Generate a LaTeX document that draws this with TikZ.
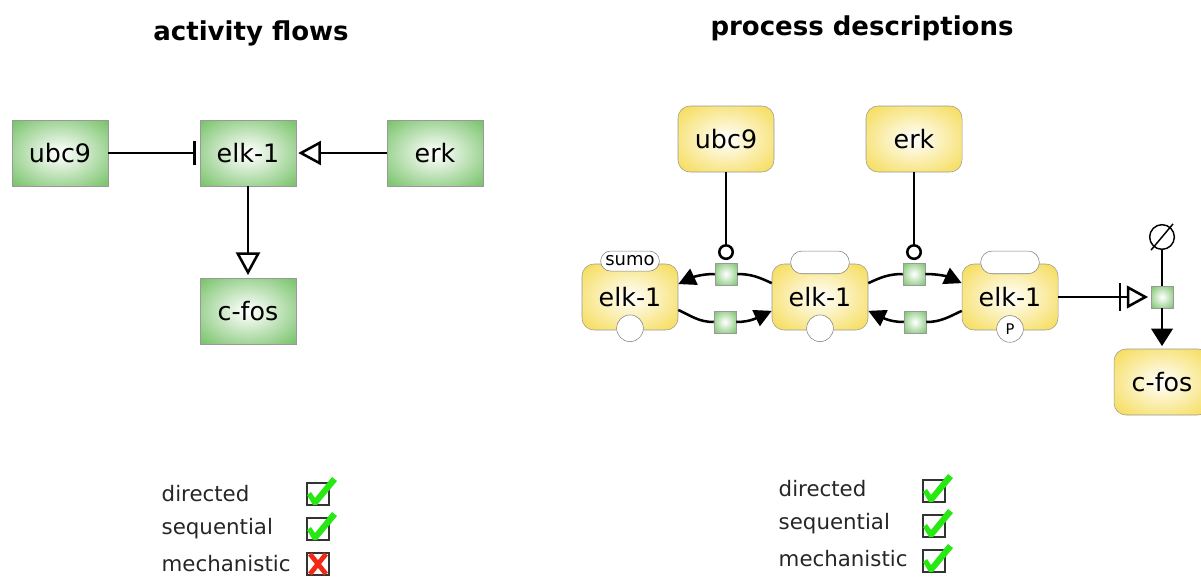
\documentclass[tikz,border=0pt]{standalone}
\usepackage{fontspec}
\setmainfont{DejaVu Sans}
\usetikzlibrary{arrows.meta,positioning,shapes.misc}

\definecolor{afgreen}{RGB}{124,196,110}
\definecolor{pdyellow}{RGB}{246,222,98}
\definecolor{tickgreen}{RGB}{40,232,20}
\definecolor{crossred}{RGB}{242,40,20}

\pgfdeclareradialshading{greenglow}{\pgfpoint{0bp}{0bp}}{color(0bp)=(white); color(5bp)=(white!88!afgreen); color(34bp)=(afgreen); color(50bp)=(afgreen)}
\pgfdeclareradialshading{yellowglow}{\pgfpoint{0bp}{0bp}}{color(0bp)=(white); color(5bp)=(white!85!pdyellow); color(32bp)=(pdyellow); color(50bp)=(pdyellow)}

\tikzset{
  conn/.style={line width=1.9pt},
  afbox/.style={draw=black!40, shading=greenglow, minimum width=72pt, minimum height=49.5pt,
    font=\fontsize{19}{22}\selectfont},
  epn/.style={draw=black!40, rounded corners=9pt, shading=yellowglow, minimum width=72pt,
    minimum height=49.5pt, font=\fontsize{19}{22}\selectfont},
  svar/.style={draw=black!50, fill=white, rounded rectangle, minimum width=44pt, inner sep=0pt,
    font=\fontsize{13.5}{13.5}\selectfont},
  uinfo/.style={draw=black!50, fill=white, circle, minimum size=20pt, inner sep=0pt,
    font=\fontsize{11}{11}\selectfont},
  proc/.style={draw=black!40, shading=greenglow, minimum size=16.5pt, inner sep=0pt},
  chkbox/.style={draw=black!80, line width=1.1pt, minimum size=16.5pt, inner sep=0pt},
  chklabel/.style={anchor=west, font=\fontsize{16}{18}\selectfont, text=black!85},
  heading/.style={font=\bfseries\fontsize{19.5}{22}\selectfont},
  opentip/.style={-{Triangle[open,length=17pt,width=18pt]}},
  filltip/.style={-{Triangle[length=13pt,width=13pt]}},
}

% ticks and crosses in the check boxes
\newcommand{\tickmark}[1]{\fill[tickgreen] (#1) ++(-11,-1) -- ++(4,3) -- ++(4,-6) -- ++(17,21)
  -- ++(5,-4) -- ++(-20,-24) -- ++(-4,0) -- cycle;}
\newcommand{\crossmark}[1]{\draw[crossred,line width=3.6pt] (#1) ++(-8,-10) -- ++(16,20)
  (#1) ++(-8,10) -- ++(16,-20);}

\begin{document}
\begin{tikzpicture}[x=0.75pt,y=0.75pt]
  \useasboundingbox (0,0) rectangle (1201,-576);

  % activity flows
  \node[heading] (titleA) at (251,-33) {activity flows};
  \node[afbox] (ubcA) at (60,-153) {ubc9};
  \node[afbox] (elkA) at (248,-153) {elk-1};
  \node[afbox] (erkA) at (435,-153) {erk};
  \node[afbox] (fosA) at (248,-311) {c-fos};
  \draw[conn,-{Bar[width=18pt]},shorten >=3pt] (ubcA) -- (elkA);
  \draw[conn,opentip,shorten >=1.5pt] (erkA) -- (elkA);
  \draw[conn,opentip,shorten >=2pt] (elkA) -- (fosA);

  % process descriptions
  \node[heading] (titleB) at (862,-28) {process descriptions};
  \node[epn] (ubcB) at (726,-139) {ubc9};
  \node[epn] (erkB) at (914,-139) {erk};
  \node[epn] (elkB1) at (630,-297) {elk-1};
  \node[epn] (elkB2) at (820,-297) {elk-1};
  \node[epn] (elkB3) at (1010,-297) {elk-1};
  \node[epn] (fosB) at (1162,-382) {c-fos};

  \node[svar,minimum height=15pt] (sumoB) at ([yshift=2pt]elkB1.north) {sumo};
  \node[svar,minimum height=17pt] (stB2) at ([yshift=1pt]elkB2.north) {};
  \node[svar,minimum height=17pt] (stB3) at ([yshift=1pt]elkB3.north) {};
  \node[uinfo] (uiB1) at ([yshift=1.5pt]elkB1.south) {};
  \node[uinfo] (uiB2) at ([yshift=1.5pt]elkB2.south) {};
  \node[uinfo] (uiB3) at ([yshift=1pt]elkB3.south) {P};

  \node[proc] (pA1) at (726,-274) {};
  \node[proc] (pA2) at (725,-322) {};
  \node[proc] (pB1) at (914,-274) {};
  \node[proc] (pB2) at (915,-322) {};
  \node[proc] (pC) at (1162,-297) {};
  \node[circle,draw,line width=1.1pt,minimum size=18.5pt,inner sep=0pt] (sink) at (1162,-237) {};
  \draw[line width=1.1pt,shorten <=-3pt,shorten >=-3pt] (sink.-130) -- (sink.50);

  \draw[conn,-{Circle[open,length=12pt,width=12pt]},shorten >=2pt] (ubcB) -- (pA1);
  \draw[conn,-{Circle[open,length=12pt,width=12pt]},shorten >=2pt] (erkB) -- (pB1);

  \draw[conn] (elkB2.164) to[out=155,in=0] (pA1.east);
  \draw[conn,filltip] (pA1.west) to[out=180,in=25] (elkB1.15);
  \draw[conn] (elkB1.-15) to[out=-25,in=180] (pA2.west);
  \draw[conn,filltip] (pA2.east) to[out=0,in=205] (elkB2.196);
  \draw[conn] (elkB2.16) to[out=25,in=180] (pB1.west);
  \draw[conn,filltip] (pB1.east) to[out=0,in=155] (elkB3.164);
  \draw[conn] (elkB3.196) to[out=205,in=0] (pB2.east);
  \draw[conn,filltip] (pB2.west) to[out=180,in=-25] (elkB2.-16);

  \draw[conn,-{Bar[width=21pt,sep=4pt]Triangle[open,length=16pt,width=17pt]},shorten >=2pt] (elkB3) -- (pC);
  \draw[conn] (sink) -- (pC);
  \draw[conn,-{Triangle[length=13pt,width=16pt]},shorten >=2pt] (pC) -- (fosB);

  % check lists
  \node[chklabel] (dirA) at (157,-494) {directed};
  \node[chklabel] (seqA) at (157,-529) {sequential};
  \node[chklabel] (mechA) at (157,-564) {mechanistic};
  \node[chkbox] (chkA1) at (318,-494) {};
  \node[chkbox] (chkA2) at (318,-529) {};
  \node[chkbox] (chkA3) at (318,-564) {};
  \tickmark{chkA1}
  \tickmark{chkA2}
  \crossmark{chkA3}

  \node[chklabel] (dirB) at (774,-489) {directed};
  \node[chklabel] (seqB) at (774,-524) {sequential};
  \node[chklabel] (mechB) at (774,-559) {mechanistic};
  \node[chkbox] (chkB1) at (934,-491) {};
  \node[chkbox] (chkB2) at (934,-526) {};
  \node[chkbox] (chkB3) at (934,-561) {};
  \tickmark{chkB1}
  \tickmark{chkB2}
  \tickmark{chkB3}
\end{tikzpicture}
\end{document}
